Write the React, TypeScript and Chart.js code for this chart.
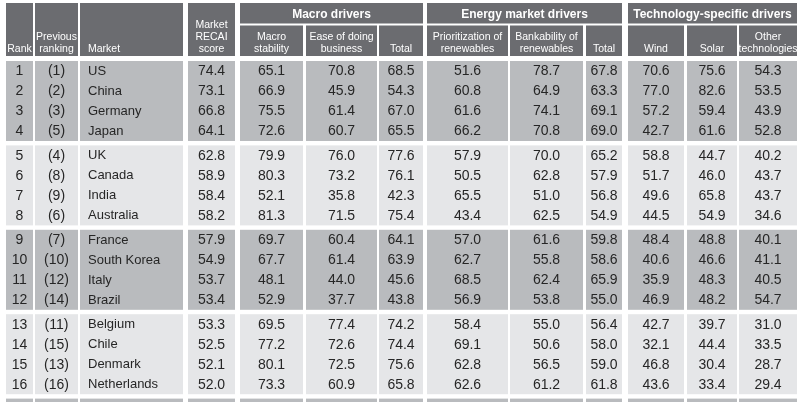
import React, { useEffect, useRef } from "react";
import { Chart, registerables } from "chart.js";

Chart.register(...registerables);

// ---------- DATA ----------
const ranks = [1, 2, 3, 4, 5, 6, 7, 8, 9, 10, 11, 12, 13, 14, 15, 16];
const previousRanks = ["(1)", "(2)", "(3)", "(5)", "(4)", "(8)", "(9)", "(6)", "(7)", "(10)", "(12)", "(14)", "(11)", "(15)", "(13)", "(16)"];
const markets = ["US", "China", "Germany", "Japan", "UK", "Canada", "India", "Australia", "France", "South Korea", "Italy", "Brazil", "Belgium", "Chile", "Denmark", "Netherlands"];
const recaiScore = [74.4, 73.1, 66.8, 64.1, 62.8, 58.9, 58.4, 58.2, 57.9, 54.9, 53.7, 53.4, 53.3, 52.5, 52.1, 52.0];
const macroStability = [65.1, 66.9, 75.5, 72.6, 79.9, 80.3, 52.1, 81.3, 69.7, 67.7, 48.1, 52.9, 69.5, 77.2, 80.1, 73.3];
const easeOfBusiness = [70.8, 45.9, 61.4, 60.7, 76.0, 73.2, 35.8, 71.5, 60.4, 61.4, 44.0, 37.7, 77.4, 72.6, 72.5, 60.9];
const macroTotal = [68.5, 54.3, 67.0, 65.5, 77.6, 76.1, 42.3, 75.4, 64.1, 63.9, 45.6, 43.8, 74.2, 74.4, 75.6, 65.8];
const prioritization = [51.6, 60.8, 61.6, 66.2, 57.9, 50.5, 65.5, 43.4, 57.0, 62.7, 68.5, 56.9, 58.4, 69.1, 62.8, 62.6];
const bankability = [78.7, 64.9, 74.1, 70.8, 70.0, 62.8, 51.0, 62.5, 61.6, 55.8, 62.4, 53.8, 55.0, 50.6, 56.5, 61.2];
const energyTotal = [67.8, 63.3, 69.1, 69.0, 65.2, 57.9, 56.8, 54.9, 59.8, 58.6, 65.9, 55.0, 56.4, 58.0, 59.0, 61.8];
const wind = [70.6, 77.0, 57.2, 42.7, 58.8, 51.7, 49.6, 44.5, 48.4, 40.6, 35.9, 46.9, 42.7, 32.1, 46.8, 43.6];
const solar = [75.6, 82.6, 59.4, 61.6, 44.7, 46.0, 65.8, 54.9, 48.8, 46.6, 48.3, 48.2, 39.7, 44.4, 30.4, 33.4];
const otherTech = [54.3, 53.5, 43.9, 52.8, 40.2, 43.7, 43.7, 34.6, 40.1, 41.1, 40.5, 54.7, 31.0, 33.5, 28.7, 29.4];

const columnHeaders = [
  ["Rank"],
  ["Previous", "ranking"],
  ["Market"],
  ["Market", "RECAI", "score"],
  ["Macro", "stability"],
  ["Ease of doing", "business"],
  ["Total"],
  ["Prioritization of", "renewables"],
  ["Bankability of", "renewables"],
  ["Total"],
  ["Wind"],
  ["Solar"],
  ["Other", "technologies"],
];
const groupHeaders = ["Macro drivers", "Energy market drivers", "Technology-specific drivers"];
const groupColumns = [[4, 6], [7, 9], [10, 12]];

// ---------- LAYOUT (scale units) ----------
const W = 802;
const H = 402;
const colSpans: [number, number][] = [
  [6, 33], [35, 78], [80, 183], [188, 235], [240, 303], [306, 377], [379, 423],
  [427, 508], [510, 583], [586, 622], [628, 684], [687, 737], [739, 797],
];
const colAlign = ["center", "center", "left", "center", "center", "center", "center", "center", "center", "center", "center", "center", "center"];
const HEADER_TOP = 3;
const HEADER_BOTTOM = 56;
const GROUP_BOTTOM = 23.5;
const SUB_TOP = 25.5;
const BODY_TOP = 61;
const ROW_H = 20;
const ROWS_PER_BLOCK = 4;
const BLOCK_GAP = 4.4;

const HEADER_BG = "#6b6c70";
const BLOCK_BG = ["#b9bbbe", "#e5e6e8"];
const TEXT = "#262626";

const blockTop = (b: number) => BODY_TOP + b * (ROWS_PER_BLOCK * ROW_H + BLOCK_GAP);
const rowCenter = (i: number) =>
  blockTop(Math.floor(i / ROWS_PER_BLOCK)) + (i % ROWS_PER_BLOCK) * ROW_H + ROW_H / 2;

const bodyColumns: (number | string)[][] = [
  ranks, previousRanks, markets, recaiScore, macroStability, easeOfBusiness, macroTotal,
  prioritization, bankability, energyTotal, wind, solar, otherTech,
];

const tablePlugin = {
  id: "tablePlugin",
  afterDraw(chart: any) {
    const ctx: CanvasRenderingContext2D = chart.ctx;
    const xs = chart.scales.x;
    const ys = chart.scales.y;
    const px = (v: number) => xs.getPixelForValue(v);
    const py = (v: number) => ys.getPixelForValue(v);
    const rect = (x0: number, y0: number, x1: number, y1: number, color: string) => {
      ctx.fillStyle = color;
      const a = px(x0), b = py(y0), c = px(x1), d = py(y1);
      ctx.fillRect(Math.min(a, c), Math.min(b, d), Math.abs(c - a), Math.abs(d - b));
    };
    ctx.save();

    // header backgrounds
    const groupedCols = new Set<number>();
    groupColumns.forEach(([a, b]) => { for (let c = a; c <= b; c++) groupedCols.add(c); });
    colSpans.forEach(([x0, x1], c) => {
      if (groupedCols.has(c)) rect(x0, SUB_TOP, x1, HEADER_BOTTOM, HEADER_BG);
      else rect(x0, HEADER_TOP, x1, HEADER_BOTTOM, HEADER_BG);
    });
    groupColumns.forEach(([a, b]) => {
      rect(colSpans[a][0], HEADER_TOP, colSpans[b][1], GROUP_BOTTOM, HEADER_BG);
    });

    // group header text
    ctx.fillStyle = "#ffffff";
    ctx.font = "bold 12px 'Liberation Sans', Arial, sans-serif";
    ctx.textAlign = "center";
    ctx.textBaseline = "alphabetic";
    groupHeaders.forEach((t, g) => {
      const [a, b] = groupColumns[g];
      ctx.fillText(t, (px(colSpans[a][0]) + px(colSpans[b][1])) / 2, py(18));
    });

    // column header text
    ctx.font = "10.5px 'Liberation Sans', Arial, sans-serif";
    columnHeaders.forEach((lines, c) => {
      const [x0, x1] = colSpans[c];
      const align = colAlign[c];
      ctx.textAlign = align === "left" ? "left" : "center";
      const x = align === "left" ? px(x0 + 8) : (px(x0) + px(x1)) / 2;
      lines.forEach((line, k) => {
        const baseline = 52.3 - (lines.length - 1 - k) * 12.2;
        ctx.fillText(line, x, py(baseline));
      });
    });

    // body blocks
    const nBlocks = Math.ceil(markets.length / ROWS_PER_BLOCK);
    for (let b = 0; b <= nBlocks; b++) {
      const top = blockTop(b);
      const bottom = top + ROWS_PER_BLOCK * ROW_H;
      colSpans.forEach(([x0, x1]) => rect(x0, top, x1, Math.min(bottom, H), BLOCK_BG[b % 2]));
    }

    // body text
    ctx.fillStyle = TEXT;
    ctx.textBaseline = "middle";
    bodyColumns.forEach((values, c) => {
      const [x0, x1] = colSpans[c];
      const align = colAlign[c];
      ctx.textAlign = align === "left" ? "left" : "center";
      ctx.font = c === 2 ? "13px 'Liberation Sans', Arial, sans-serif" : "14px 'Liberation Sans', Arial, sans-serif";
      const x = align === "left" ? px(x0 + 8) : (px(x0) + px(x1)) / 2;
      values.forEach((v, i) => {
        const s = typeof v === "number" && c >= 3 ? v.toFixed(1) : String(v);
        ctx.fillText(s, x, py(rowCenter(i)) + 0.5);
      });
    });

    ctx.restore();
  },
};

export default function App() {
  const ref = useRef<HTMLCanvasElement | null>(null);
  useEffect(() => {
    document.body.style.margin = "0";
    const canvas = ref.current;
    if (!canvas) return;
    const chart = new Chart(canvas, {
      type: "scatter",
      data: { datasets: [] },
      options: {
        animation: false,
        responsive: false,
        devicePixelRatio: 1,
        layout: { padding: 0 },
        plugins: { legend: { display: false }, tooltip: { enabled: false } },
        scales: {
          x: { type: "linear", min: 0, max: W, display: false },
          y: { type: "linear", min: 0, max: H, reverse: true, display: false },
        },
      },
      plugins: [tablePlugin],
    });
    return () => chart.destroy();
  }, []);
  return (
    <div style={{ width: W, height: H, background: "#ffffff" }}>
      <canvas ref={ref} width={W} height={H} style={{ display: "block", width: W, height: H }} />
    </div>
  );
}
